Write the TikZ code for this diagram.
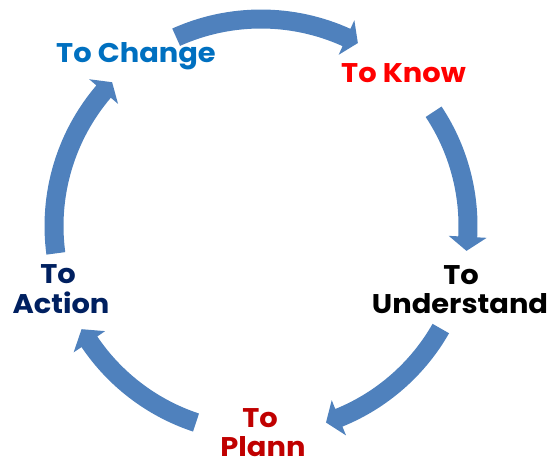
\documentclass[tikz,border=0pt]{standalone}
\usepackage{fontspec}
\setmainfont{Poppins}[FakeStretch=1.07]
\definecolor{arrowblue}{HTML}{4F81BD}
\definecolor{cChange}{HTML}{0070C0}
\definecolor{cKnow}{HTML}{FF0000}
\definecolor{cPlann}{HTML}{C00000}
\definecolor{cAction}{HTML}{002060}
\newcommand\cycarrow[3]{%
  \fill[arrowblue] (#1:216.5pt) arc[start angle=#1,end angle=#2,radius=216.5pt]
    -- (#2:226pt) -- (#3:207pt) -- (#2:188pt) -- (#2:197.5pt)
    arc[start angle=#2,end angle=#1,radius=197.5pt] -- cycle;}
\tikzset{lbl/.style={inner sep=0pt,anchor=base,font=\fontsize{27}{29}\selectfont\bfseries}}
\begin{document}
\begin{tikzpicture}
\useasboundingbox (0pt,0pt) rectangle (549pt,-461pt);
\begin{scope}[shift={(261pt,-226pt)}]
  \cycarrow{114.2}{65.6}{62.1}
  \cycarrow{33.5}{-3.0}{-6.9}
  \cycarrow{-29.7}{-67.9}{-71.7}
  \cycarrow{-108.3}{-146.0}{-150.1}
  \cycarrow{187.6}{139.5}{136.0}
\end{scope}
\node[lbl,text=cChange] (change) at (136pt,-62pt) {To Change};
\node[lbl,text=cKnow] (know) at (403.5pt,-82pt) {To Know};
\node[lbl] (underA) at (461pt,-284pt) {To};
\node[lbl] (underB) at (460pt,-313pt) {Understand};
\node[lbl,text=cPlann] (plannA) at (260pt,-427pt) {To};
\node[lbl,text=cPlann] (plannB) at (263pt,-456pt) {Plann};
\node[lbl,text=cAction] (actionA) at (58pt,-283pt) {To};
\node[lbl,text=cAction] (actionB) at (61pt,-313pt) {Action};
\end{tikzpicture}
\end{document}
